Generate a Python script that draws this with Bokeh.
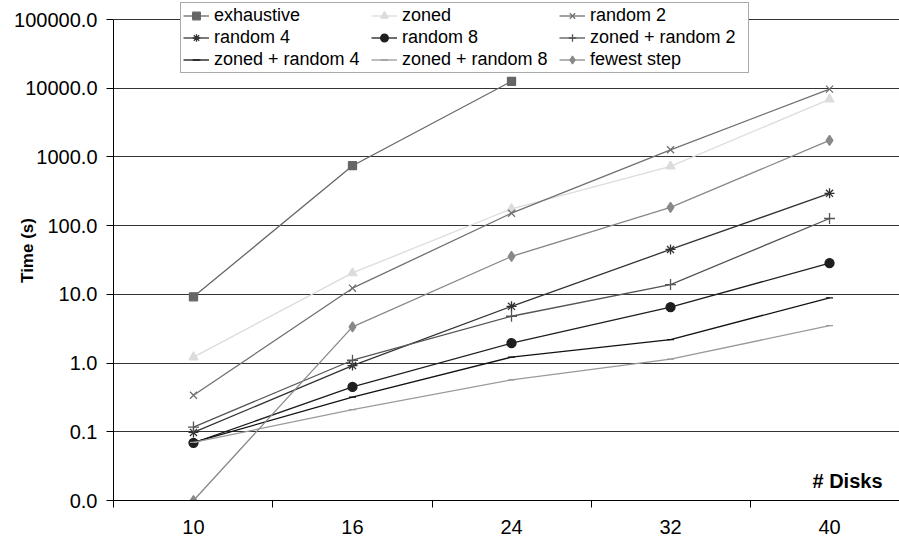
import math
import numpy as np
from bokeh.plotting import figure
from bokeh.models import (Range1d, FixedTicker, CustomJSTickFormatter, Legend, LegendItem, Label)
from bokeh.embed import file_html
from bokeh.resources import INLINE

# ---- data ----
disks = ["10", "16", "24", "32", "40"]
exhaustive = [9.2, 745, 12600]
zoned = [1.22, 20.5, 176, 730, 6900]
random_2 = [0.34, 12.3, 152, 1270, 9700]
random_4 = [0.098, 0.92, 6.7, 45, 295]
random_8 = [0.069, 0.45, 1.95, 6.5, 28.5]
zoned_random_2 = [0.117, 1.1, 4.8, 13.9, 127]
zoned_random_4 = [0.07, 0.32, 1.22, 2.2, 8.9]
zoned_random_8 = [0.07, 0.21, 0.57, 1.14, 3.5]
fewest_step = [0.01, 3.37, 35.6, 184, 1740]
y_ticks = [0.01, 0.1, 1, 10, 100, 1000, 10000, 100000]

series = [
    ("exhaustive", exhaustive, "#666666", "square", 8, "#666666"),
    ("zoned", zoned, "#dcdcdc", "triangle", 9, "#dcdcdc"),
    ("random 2", random_2, "#707070", "x", 10, "#707070"),
    ("random 4", random_4, "#333333", "asterisk", 10, "#333333"),
    ("random 8", random_8, "#1e1e1e", "circle", 9, "#1e1e1e"),
    ("zoned + random 2", zoned_random_2, "#555555", "cross", 11, "#555555"),
    ("zoned + random 4", zoned_random_4, "#111111", "dash", 7, "#111111"),
    ("zoned + random 8", zoned_random_8, "#9a9a9a", "dash", 7, "#9a9a9a"),
    ("fewest step", fewest_step, "#888888", "diamond", 10, "#888888"),
]

FONT = "Liberation Sans"

# frame spans full height above the x axis; top decade line sits 19px below the top
decade_px = 481 / 7
y_end = 10 ** (5 + 19 / decade_px)

p = figure(width=899, height=545, y_axis_type="log",
           x_range=Range1d(-0.503, 4.44), y_range=Range1d(0.01, y_end),
           output_backend="svg", toolbar_location=None,
           min_border_left=113, min_border_right=0, min_border_top=0, min_border_bottom=45)
p.outline_line_color = None
p.background_fill_color = "white"
p.border_fill_color = "white"

items = []
for name, vals, col, marker, size, mcol in series:
    xs = list(range(len(vals)))
    lr = p.line(xs, vals, line_color=col, line_width=1.3)
    sr = p.scatter(xs, vals, marker=marker, size=size, fill_color=mcol,
                   line_color=mcol, line_width=1.3)
    items.append(LegendItem(label=name, renderers=[lr, sr]))

# legend fills column by column: reorder so rows read as in the reference
ncol = 3
nrow = 3
ordered = [items[r * ncol + c] for c in range(ncol) for r in range(nrow)]

# axes
xa = p.xaxis[0]
xa.ticker = FixedTicker(ticks=list(range(len(disks))),
                        minor_ticks=[i - 0.5 for i in range(len(disks))])
xa.major_label_overrides = {i: d for i, d in enumerate(disks)}
xa.major_tick_in = 0
xa.major_tick_out = 0
xa.minor_tick_in = 0
xa.minor_tick_out = 7
xa.minor_tick_line_color = "black"
xa.axis_line_color = "black"
xa.major_label_standoff = 12
xa.major_label_text_font = FONT
xa.major_label_text_font_size = "20px"
xa.major_label_text_color = "black"

ya = p.yaxis[0]
ya.ticker = FixedTicker(ticks=y_ticks, minor_ticks=[])
ya.formatter = CustomJSTickFormatter(code="return tick.toFixed(1);")
ya.bounds = (y_ticks[0], y_ticks[-1])
ya.major_tick_in = 0
ya.major_tick_out = 7
ya.major_tick_line_color = "black"
ya.axis_line_color = "black"
ya.major_label_standoff = 9
ya.major_label_text_font = FONT
ya.major_label_text_font_size = "20px"
ya.major_label_text_color = "black"
ya.axis_label = "Time (s)"
ya.axis_label_text_font = FONT
ya.axis_label_text_font_style = "bold"
ya.axis_label_text_font_size = "17px"
ya.axis_label_text_color = "black"
ya.axis_label_standoff = -26

p.xgrid.visible = False
p.ygrid.ticker = FixedTicker(ticks=y_ticks, minor_ticks=[])
p.ygrid.grid_line_color = "#333333"
p.ygrid.grid_line_width = 1

legend = Legend(items=ordered, ncols=3, location=(67, 427),
                label_text_font=FONT, label_text_font_size="18px",
                label_text_color="black",
                glyph_width=26, glyph_height=19, label_height=19,
                label_width=156, label_standoff=5, spacing=1, padding=2,
                border_line_color="#555555", border_line_width=1.5,
                background_fill_color="white", background_fill_alpha=1.0)
p.add_layout(legend, "center")

p.add_layout(Label(x=769, y=20, x_units="screen", y_units="screen",
                   text="# Disks", text_align="right", text_baseline="middle",
                   text_font=FONT, text_font_style="bold",
                   text_font_size="20px", text_color="black"))

open("out.html", "w").write(file_html(p, INLINE))
